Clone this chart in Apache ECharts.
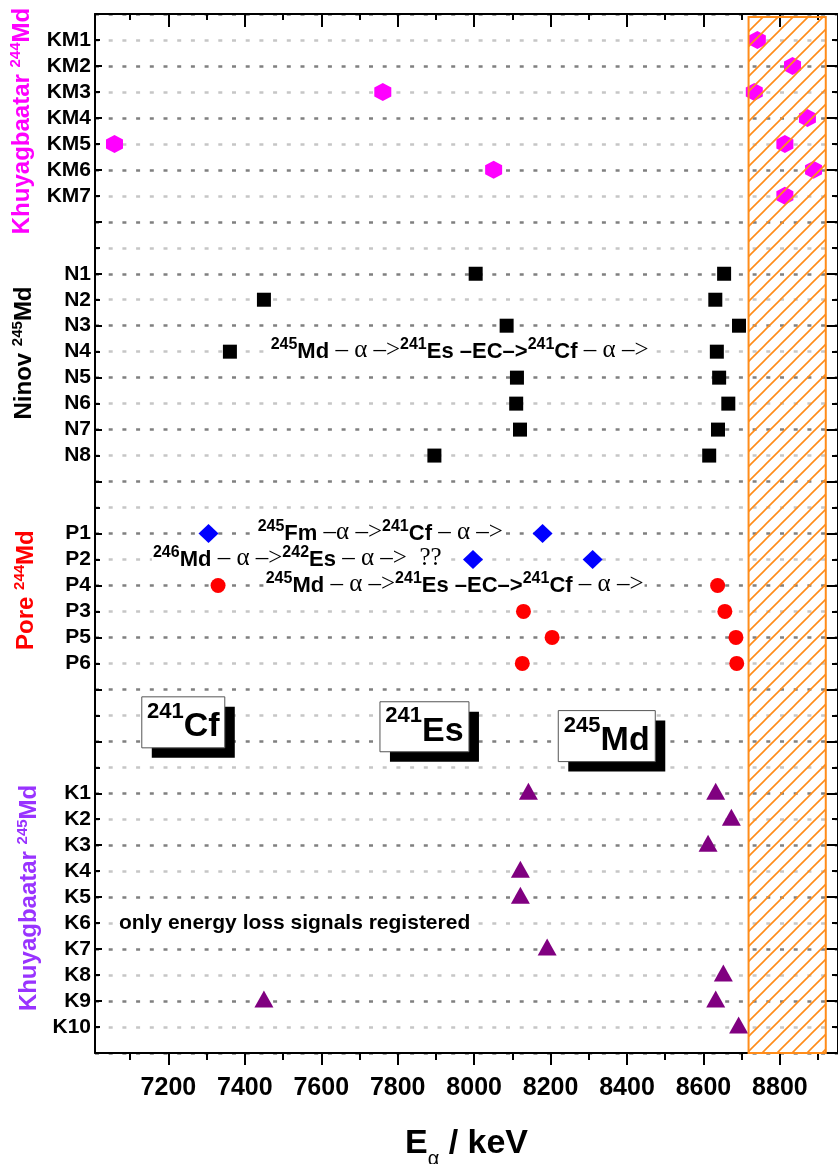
<!DOCTYPE html>
<html>
<head>
<meta charset="utf-8">
<script src="https://cdn.jsdelivr.net/npm/echarts@6/dist/echarts.min.js"></script>
<style>
  html, body { margin: 0; padding: 0; background: #fff; }
  #chart { width: 838px; height: 1164px; }
</style>
</head>
<body>
<div id="chart"></div>
<script>
// Event rows from top to bottom; empty strings are spacer rows.
const rowLabels = ['',
  'KM1', 'KM2', 'KM3', 'KM4', 'KM5', 'KM6', 'KM7', '', '',
  'N1', 'N2', 'N3', 'N4', 'N5', 'N6', 'N7', 'N8', '', '',
  'P1', 'P2', 'P4', 'P3', 'P5', 'P6', '', '', '', '',
  'K1', 'K2', 'K3', 'K4', 'K5', 'K6', 'K7', 'K8', 'K9', 'K10',
  ''];

// Alpha energies (keV) per event row.
const khuyagbaatar244Md = [
  ['KM1', 8741], ['KM2', 8833], ['KM3', 7761], ['KM3', 8733], ['KM4', 8872],
  ['KM5', 7059], ['KM5', 8813], ['KM6', 8051], ['KM6', 8888], ['KM7', 8813]
];
const ninov245Md = [
  ['N1', 8004], ['N1', 8654], ['N2', 7450], ['N2', 8631], ['N3', 8085], ['N3', 8693],
  ['N4', 7361], ['N4', 8635], ['N5', 8112], ['N5', 8641], ['N6', 8110], ['N6', 8665],
  ['N7', 8120], ['N7', 8638], ['N8', 7896], ['N8', 8615]
];
const pore245Fm = [['P1', 7305], ['P1', 8179], ['P2', 7997], ['P2', 8310]];
const pore245Md = [
  ['P4', 7330], ['P4', 8637], ['P3', 8129], ['P3', 8656],
  ['P5', 8204], ['P5', 8685], ['P6', 8126], ['P6', 8687]
];
const khuyagbaatar245Md = [
  ['K1', 8142], ['K1', 8632], ['K2', 8673], ['K3', 8612], ['K4', 8121], ['K5', 8121],
  ['K7', 8191], ['K8', 8652], ['K9', 7450], ['K9', 8632], ['K10', 8692]
];

// Energy axis range, tick values and the hatched energy band.
const energyRange = [7008, 8952];
const xMajorTicks = [7200, 7400, 7600, 7800, 8000, 8200, 8400, 8600, 8800];
const xMinorTicks = [7100, 7300, 7500, 7700, 7900, 8100, 8300, 8500, 8700, 8900];
const hatchedBand = [8718, 8920];

// Decay-chain annotations: [row, start energy, tokens]
const chainMd245 = [['s', '245'], ['b', 'Md'], ['t', ' – α –>'], ['s', '241'], ['b', 'Es'],
  ['b', ' –EC–>'], ['s', '241'], ['b', 'Cf'], ['t', ' – α –>']];
const chainFm245 = [['s', '245'], ['b', 'Fm'], ['t', ' –α –>'], ['s', '241'], ['b', 'Cf'], ['t', ' – α –>']];
const chainMd246 = [['s', '246'], ['b', 'Md'], ['t', ' – α –>'], ['s', '242'], ['b', 'Es'], ['t', ' – α –>  ??']];
const chainNotes = [
  ['N4', 7465, chainMd245],
  ['P1', 7431, chainFm245],
  ['P2', 7157, chainMd246],
  ['P4', 7452, chainMd245],
  ['K6', 7068, [['n', 'only energy loss signals registered']]]
];

// Nuclide labels: [mass number, symbol, energy, row position, box width, box height]
const nuclideBoxes = [
  ['241', 'Cf', 7239, 27.27, 83, 51],
  ['241', 'Es', 7870, 27.44, 89, 50],
  ['245', 'Md', 8347, 27.80, 97, 51]
];

// Group titles on the left: [name, mass, colour, x pixel, row position]
const groupTitles = [
  ['Khuyagbaatar ', '244', '#ff00ff', 22, 4.12],
  ['Ninov ', '245', '#000000', 24, 13.05],
  ['Pore ', '244', '#ff0000', 26, 22.18],
  ['Khuyagbaatar ', '245', '#9933ff', 29, 34.03]
];

const FONT = '"Liberation Sans", Arial, Helvetica, sans-serif';
const SERIF = '"Liberation Serif", "Times New Roman", serif';
const HEX = 'path://M0,-10L8.66,-5L8.66,5L0,10L-8.66,5L-8.66,-5Z';
const ORANGE = '#ff8c1a';

const rowIndex = name => rowLabels.indexOf(name);
const toPoints = list => list.map(([name, e]) => [e, rowIndex(name)]);
const labelRows = rowLabels.map((l, i) => (l ? i : null)).filter(v => v !== null);

function hatchPattern() {
  const c = document.createElement('canvas');
  c.width = 15; c.height = 15;
  const g = c.getContext('2d');
  g.strokeStyle = ORANGE;
  g.lineWidth = 1.6;
  g.beginPath();
  g.moveTo(-1, 16); g.lineTo(16, -1);
  g.moveTo(-3, 3); g.lineTo(3, -3);
  g.moveTo(12, 18); g.lineTo(18, 12);
  g.stroke();
  return c;
}

function markerSeries(name, list, symbol, size, color, extra) {
  return Object.assign({
    name, type: 'scatter', data: toPoints(list), symbol, symbolSize: size,
    itemStyle: { color, opacity: 1 }, silent: true, z: 3
  }, extra || {});
}

const axisBlack = { color: '#000', width: 2 };
const xCommon = { type: 'value', min: energyRange[0], max: energyRange[1], splitLine: { show: false } };
const yCommon = { type: 'value', inverse: true, min: 0, max: 40, interval: 2 };

const chart = echarts.init(document.getElementById('chart'), null, { renderer: 'canvas' });

chart.setOption({
  animation: false,
  backgroundColor: '#fff',
  grid: { left: 95, top: 14, width: 744, height: 1039 },
  xAxis: [
    Object.assign({}, xCommon, {
      position: 'bottom',
      axisLine: { show: true, onZero: false, lineStyle: axisBlack },
      axisTick: { show: true, inside: false, length: 12, customValues: xMajorTicks, lineStyle: axisBlack },
      axisLabel: { show: true, customValues: xMajorTicks, formatter: v => String(v), margin: 23,
        fontSize: 25, lineHeight: 25, fontWeight: 'bold', fontFamily: FONT, color: '#000' }
    }),
    Object.assign({}, xCommon, {
      position: 'top',
      axisLine: { show: true, onZero: false, lineStyle: axisBlack },
      axisTick: { show: true, inside: true, length: 13, customValues: xMajorTicks, lineStyle: axisBlack },
      axisLabel: { show: false }
    }),
    Object.assign({}, xCommon, {
      position: 'bottom',
      axisLine: { show: false, onZero: false },
      axisTick: { show: true, inside: false, length: 7, customValues: xMinorTicks, lineStyle: axisBlack },
      axisLabel: { show: false }
    }),
    Object.assign({}, xCommon, {
      position: 'top',
      axisLine: { show: false, onZero: false },
      axisTick: { show: true, inside: true, length: 6, customValues: xMinorTicks, lineStyle: axisBlack },
      axisLabel: { show: false }
    })
  ],
  yAxis: [
    Object.assign({}, yCommon, {
      position: 'left',
      axisLine: { show: true, onZero: false, lineStyle: axisBlack },
      axisTick: { show: true, inside: true, length: 7, lineStyle: axisBlack },
      minorTick: { show: true, splitNumber: 2, length: 5, lineStyle: axisBlack },
      splitLine: { show: true, lineStyle: { color: '#808080', width: 2.5, type: [4, 9.7] } },
      minorSplitLine: { show: true, lineStyle: { color: '#c6c6c6', width: 2.5, type: [4, 9.7] } },
      axisLabel: { show: true, customValues: labelRows, formatter: v => rowLabels[v] || '',
        margin: 4, fontSize: 21, fontWeight: 'bold', fontFamily: FONT, color: '#000' }
    }),
    Object.assign({}, yCommon, {
      position: 'right',
      axisLine: { show: true, onZero: false, lineStyle: axisBlack },
      axisTick: { show: true, inside: true, length: 12, lineStyle: axisBlack },
      minorTick: { show: true, splitNumber: 2, length: 6, lineStyle: axisBlack },
      splitLine: { show: false },
      axisLabel: { show: false }
    })
  ],
  series: [
    markerSeries('Khuyagbaatar 244Md', khuyagbaatar244Md, HEX, [17, 18], '#ff00ff', {
      markArea: {
        silent: true, z: 10,
        itemStyle: { color: { image: hatchPattern(), repeat: 'repeat' }, borderColor: ORANGE, borderWidth: 2 },
        data: [[{ xAxis: hatchedBand[0], yAxis: 0.12 }, { xAxis: hatchedBand[1], yAxis: 40 }]]
      }
    }),
    markerSeries('Ninov 245Md', ninov245Md, 'rect', 14, '#000000'),
    markerSeries('Pore 245Fm', pore245Fm, 'diamond', [20, 19], '#0000ff'),
    markerSeries('Pore 245Md', pore245Md, 'circle', 15, '#ff0000'),
    markerSeries('Khuyagbaatar 245Md', khuyagbaatar245Md, 'triangle', [19, 17], '#800080', { symbolOffset: [0, -2] })
  ]
});

const px = (e, row) => chart.convertToPixel({ xAxisIndex: 0, yAxisIndex: 0 }, [e, row]);

// Superscript mass numbers sit at the top of each line; element symbols and arrows on the bottom.
const chainRich = {
  s: { fontFamily: FONT, fontWeight: 'bold', fontSize: 16, lineHeight: 16, verticalAlign: 'top', fill: '#000' },
  b: { fontFamily: FONT, fontWeight: 'bold', fontSize: 22, lineHeight: 26, verticalAlign: 'bottom', fill: '#000' },
  n: { fontFamily: FONT, fontWeight: 'bold', fontSize: 21, lineHeight: 26, verticalAlign: 'bottom', fill: '#000' },
  t: { fontFamily: SERIF, fontWeight: 'normal', fontSize: 25, lineHeight: 26, verticalAlign: 'bottom', fill: '#000' }
};

const graphics = [];

chainNotes.forEach(([row, e, tokens]) => {
  const p = px(e, rowIndex(row));
  graphics.push({
    type: 'text', x: p[0], y: p[1] - 2, z: 20, silent: true,
    style: {
      text: tokens.map(([k, s]) => '{' + k + '|' + s + '}').join(''),
      rich: chainRich, align: 'left', verticalAlign: 'middle',
      backgroundColor: '#fff', padding: [0, 1]
    }
  });
});

nuclideBoxes.forEach(([mass, sym, e, row, w, h]) => {
  const p = px(e, row);
  graphics.push({
    type: 'group', x: p[0], y: p[1], z: 20, silent: true,
    children: [
      { type: 'rect', shape: { x: -w / 2 + 10, y: -h / 2 + 10, width: w, height: h }, style: { fill: '#000' } },
      { type: 'rect', shape: { x: -w / 2, y: -h / 2, width: w, height: h }, style: { fill: '#fff', stroke: '#555', lineWidth: 1 } },
      { type: 'text', x: 0, y: 0, style: {
        text: '{s|' + mass + '}{b|' + sym + '}', align: 'center', verticalAlign: 'middle',
        rich: {
          s: { fontFamily: FONT, fontWeight: 'bold', fontSize: 22, lineHeight: 22, verticalAlign: 'top', fill: '#000' },
          b: { fontFamily: FONT, fontWeight: 'bold', fontSize: 34, lineHeight: 43, verticalAlign: 'bottom', fill: '#000' }
        }
      } }
    ]
  });
});

groupTitles.forEach(([name, mass, color, x, row]) => {
  const y = px(energyRange[0], row)[1];
  graphics.push({
    type: 'text', x, y, rotation: Math.PI / 2, z: 20, silent: true,
    style: {
      text: '{n|' + name + '}{s|' + mass + '}{n|Md}', align: 'center', verticalAlign: 'middle',
      rich: {
        n: { fontFamily: FONT, fontWeight: 'bold', fontSize: 24, lineHeight: 27, fill: color },
        s: { fontFamily: FONT, fontWeight: 'bold', fontSize: 15, lineHeight: 12, verticalAlign: 'top', fill: color }
      }
    }
  });
});

// Energy axis title, centred under the plot
const gridRect = chart.getModel().getComponent('grid', 0).coordinateSystem.getRect();
graphics.push({
  type: 'text', x: gridRect.x + gridRect.width / 2, y: 1127, z: 20, silent: true,
  style: {
    text: '{e|E}{a|α}{e| / keV}', align: 'center', verticalAlign: 'top',
    rich: {
      e: { fontFamily: FONT, fontWeight: 'bold', fontSize: 34, lineHeight: 34, verticalAlign: 'top', fill: '#000' },
      a: { fontFamily: FONT, fontWeight: 'normal', fontSize: 20, lineHeight: 42, verticalAlign: 'bottom', fill: '#000' }
    }
  }
});

chart.setOption({ graphic: graphics });
</script>
</body>
</html>
